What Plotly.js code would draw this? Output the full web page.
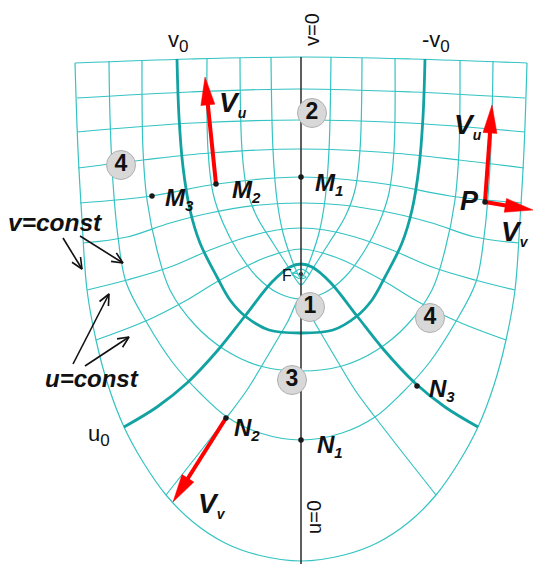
<!DOCTYPE html>
<html><head><meta charset="utf-8">
<script src="https://cdn.plot.ly/plotly-3.0.1.min.js"></script>
<style>html,body{margin:0;padding:0;background:#fff}#chart{width:534px;height:564px}</style>
</head><body><div id="chart"></div>
<script>
// Coordinates: horizontal distance from the axis (X) and height above the focus F (Y).
// v = const lines (U-shaped), right half; mirrored for the left half.
const vLineX = [
  [0,5,9],
  [30,28,24,18,11,5,0],
  [61,59,54,44,28,14,4,0],
  [94,93,88,78,64,44,23,0],
  [124,122,118,111,101,84,71,56,32,0],
  [159,158,154,144,131,106,76,41,0],
  [192,191,188,183,175,154,128,101,74,41,0],
  [226,223,219,214,205,193,177,158,135,108,76,43,0]
];
const vLineY = [
  [-5,-3,1],
  [217,124,74,41,19,4,-4],
  [216,124,84,57,31,9,-7,-11],
  [215,124,81,51,24,-3,-19,-25],
  [215,157,107,64,31,-3,-26,-42,-56,-59],
  [214,124,74,24,-16,-51,-76,-92,-97],
  [213,157,91,37,-8,-49,-89,-119,-143,-159,-166],
  [211,124,54,-16,-66,-111,-153,-188,-221,-248,-269,-281,-287]
];
const vThick = 4; // v0
// u = const lines (cap-shaped), from the axis outward
const uLineX = [
  [0,111,226],
  [0,111,224],
  [0,108,224],
  [0,91,158,223],
  [0,84,149,221],
  [0,41,91,131,174,218],
  [0,24,54,91,131,174,214],
  [0,34,81,114,153,205],
  [0,11,29,56,83,114,144,177],
  [0,14,34,54,74,105,135],
  [0,5,9]
];
const uLineY = [
  [217,215,211],
  [185,182,176],
  [154,151,142],
  [125,121,114,106],
  [97,90,78,71],
  [71,69,61,51,37,31],
  [46,44,37,24,7,-6,-16],
  [25,17,-6,-26,-46,-66],
  [10,7,-8,-42,-76,-109,-133,-153],
  [-24,-49,-83,-116,-143,-183,-221],
  [5,3,-1]
];
const uThick = 8; // u0
// marked points
const ptNames = ['M1','M2','M3','N1','N2','N3','P'];
const ptX = [0,-85,-149,0,-75,116,184];
const ptY = [97,90,78,-166,-144,-112,72];
// region numbers
const regionText = ['2','4','1','3','4'];
const regionX = [11,-180,9,-9,129];
const regionY = [161,109,-33,-106,-44];
// velocity vectors: tail -> head
const velTail = [[-85,90],[184,72],[184,72],[-75,-144]];
const velHead = [[-96,197],[191,169],[232,64],[-128,-228]];
// pointer arrows for the labels v=const, u=const
const ptrTail = [[-238,36],[-221,38],[-228,-90],[-216,-92]];
const ptrHead = [[-219,5],[-178,11],[-192,-20],[-172,-63]];

const THIN = '#35c3c3', THICK = '#12a2a2';
const FONT = 'Liberation Sans, Arial, sans-serif';
const traces = [];

function mirrored(xs, ys, startFromCenter) {
  let X = [], Y = [];
  if (startFromCenter) {
    for (let k = xs.length - 1; k >= 1; k--) { X.push(-xs[k]); Y.push(ys[k]); }
    for (let k = 0; k < xs.length; k++) { X.push(xs[k]); Y.push(ys[k]); }
  } else {
    for (let k = 0; k < xs.length; k++) { X.push(-xs[k]); Y.push(ys[k]); }
    for (let k = xs.length - 2; k >= 0; k--) { X.push(xs[k]); Y.push(ys[k]); }
  }
  return [X, Y];
}
function addCurve(X, Y, thick) {
  traces.push({type:'scatter', mode:'lines', x:X, y:Y, hoverinfo:'skip',
    line:{color: thick ? THICK : THIN, width: thick ? 2.8 : 1.2, shape:'spline', smoothing:1}});
}
[false, true].forEach(th => {
  vLineX.forEach((xs, i) => { if ((i === vThick) === th) { const [X,Y] = mirrored(xs, vLineY[i], false); addCurve(X, Y, th); } });
  uLineX.forEach((xs, j) => { if ((j === uThick) === th) { const [X,Y] = mirrored(xs, uLineY[j], true); addCurve(X, Y, th); } });
});
// symmetry axis
traces.push({type:'scatter', mode:'lines', x:[0,0], y:[217,-292], hoverinfo:'skip', line:{color:'#2a2a2a', width:1.5}});
// focus
traces.push({type:'scatter', mode:'markers', x:[0], y:[0], hoverinfo:'skip', marker:{size:4, color:'#333'}});

function arrow(t, h, color, width, hl, hw, filled) {
  const dx = h[0]-t[0], dy = h[1]-t[1], L = Math.hypot(dx, dy);
  const ux = dx/L, uy = dy/L, nx = -uy, ny = ux;
  const bx = h[0]-ux*hl, by = h[1]-uy*hl;
  if (filled) {
    traces.push({type:'scatter', mode:'lines', x:[t[0], bx+ux*2], y:[t[1], by+uy*2], hoverinfo:'skip', line:{color, width}});
    traces.push({type:'scatter', mode:'lines', fill:'toself', fillcolor:color, hoverinfo:'skip',
      x:[h[0], bx+nx*hw/2, bx-nx*hw/2, h[0]], y:[h[1], by+ny*hw/2, by-ny*hw/2, h[1]], line:{color, width:0.5}});
  } else {
    traces.push({type:'scatter', mode:'lines', x:[t[0], h[0]], y:[t[1], h[1]], hoverinfo:'skip', line:{color, width}});
    traces.push({type:'scatter', mode:'lines', hoverinfo:'skip',
      x:[bx+nx*hw/2, h[0], bx-nx*hw/2], y:[by+ny*hw/2, h[1], by-ny*hw/2], line:{color, width}});
  }
}
velTail.forEach((t, k) => arrow(t, velHead[k], '#ff0000', 4, 28, 14, true));
ptrTail.forEach((t, k) => arrow(t, ptrHead[k], '#111', 1.6, 11, 10, false));

traces.push({type:'scatter', mode:'markers', x:ptX, y:ptY, hoverinfo:'skip', marker:{size:5.5, color:'#1a1a1a'}});
traces.push({type:'scatter', mode:'markers+text', x:regionX, y:regionY, hoverinfo:'skip',
  text: regionText.map(s => '<b>' + s + '</b>'), textposition:'middle center',
  textfont:{family:FONT, size:23, color:'#111'},
  marker:{size:29, color:'#d8d8d8', line:{color:'#b0b0b0', width:1}}});

const ann = [];
function txt(text, x, y, size, opts) {
  ann.push(Object.assign({text, x, y, xref:'x', yref:'y', showarrow:false,
    font:{family:FONT, size, color:'#111'}}, opts || {}));
}
const bi = (m, s, ss) => '<b><i>' + m + '</i></b><sub><b><i><span style="font-size:' + ss + 'px">' + s + '</span></i></b></sub>';
txt(bi('M','1',15), 12, 90, 24, {xanchor:'left'});
txt(bi('M','2',15), -71, 83, 24, {xanchor:'left'});
txt(bi('M','3',15), -138, 75, 24, {xanchor:'left'});
txt(bi('N','1',15), 14, -172, 24, {xanchor:'left'});
txt(bi('N','2',15), -69, -155, 24, {xanchor:'left'});
txt(bi('N','3',15), 126, -116, 24, {xanchor:'left'});
txt('<b><i>P</i></b>', 180, 73, 27, {xanchor:'right'});
txt(bi('V','u',14), -84, 170, 28, {xanchor:'left'});
txt(bi('V','u',14), 151, 148, 28, {xanchor:'left'});
txt(bi('V','v',14), 198, 41, 28, {xanchor:'left'});
txt(bi('V','v',14), -105, -231, 28, {xanchor:'left'});
const sub0 = '<sub><span style="font-size:17px">0</span></sub>';
txt('v' + sub0, -123, 233, 22);
txt('-v' + sub0, 135, 233, 22);
txt('u' + sub0, -202, -161, 22);
txt('v=0', 11, 244, 20, {textangle:-90});
txt('u=0', 13, -243, 20, {textangle:-90});
txt('F', -14, -1, 16);
txt('<b><i>v=const</i></b>', -246, 52, 24.5);
txt('<b><i>u=const</i></b>', -209, -104, 24);

Plotly.newPlot('chart', traces, {
  width:534, height:564, margin:{l:0, r:0, t:0, b:0},
  paper_bgcolor:'#fff', plot_bgcolor:'#fff', showlegend:false, hovermode:false,
  xaxis:{range:[-301,233], visible:false, fixedrange:true},
  yaxis:{range:[-290,274], visible:false, fixedrange:true},
  annotations: ann
}, {staticPlot:true});
</script></body></html>
